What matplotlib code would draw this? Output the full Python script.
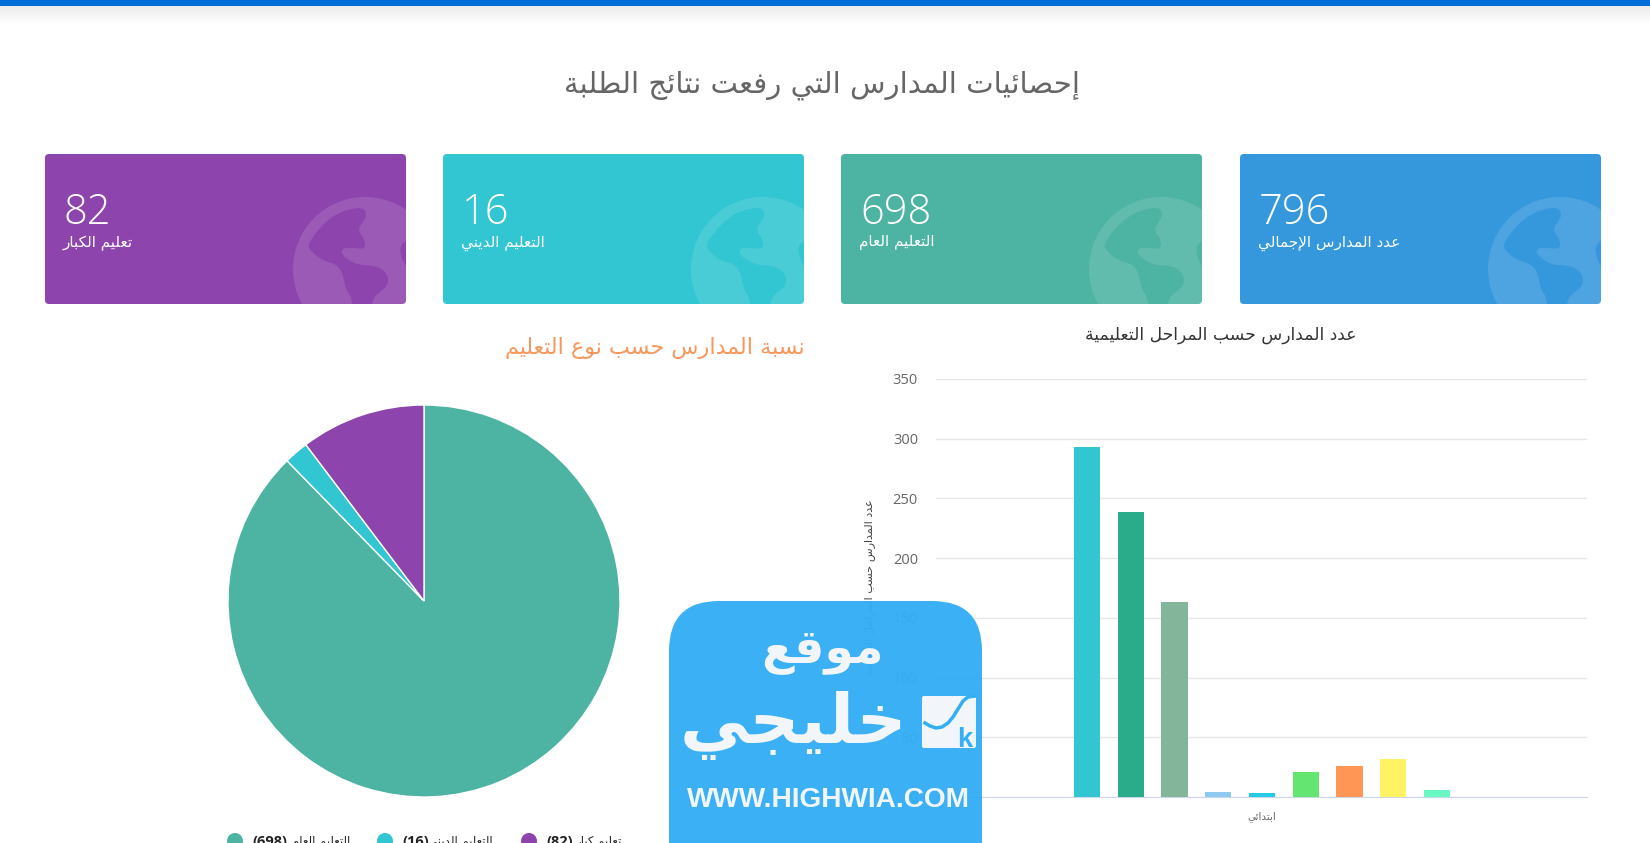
import numpy as np
import matplotlib
matplotlib.use("Agg")
import matplotlib.pyplot as plt
from matplotlib.patches import FancyBboxPatch, Circle, Polygon

W, H = 1650, 843

# Data
card_labels = ["تعليم الكبار", "التعليم الديني", "التعليم العام", "عدد المدارس الإجمالي"]
card_values = [82, 16, 698, 796]
card_colors = ["#8E44AD", "#32C5D2", "#4DB3A2", "#3598DC"]

pie_labels = ["التعليم العام", "التعليم الديني", "تعليم كبار"]
pie_values = [698, 16, 82]
pie_colors = ["#4DB3A2", "#32C5D2", "#8E44AD"]

bar_values = [293, 239, 163, 4, 3, 21, 26, 32, 6]
bar_colors = ["#32C5D2", "#2AAC8A", "#83B59B", "#90CAF0", "#24CBE5",
              "#64E572", "#FF9655", "#FFF263", "#6AF9C4"]
y_ticks = [0, 50, 100, 150, 200, 250, 300, 350]
x_label = "ابتدائي"

# Arabic shaping: matplotlib draws neither joined letters nor right to left
# (isolated, final, initial, medial), two-form letters do not join onward
FORMS = {}
start = 0xFE80
for ch, n in [("ء", 1), ("آ", 2), ("أ", 2), ("ؤ", 2), ("إ", 2), ("ئ", 4), ("ا", 2),
              ("ب", 4), ("ة", 2), ("ت", 4), ("ث", 4), ("ج", 4), ("ح", 4), ("خ", 4),
              ("د", 2), ("ذ", 2), ("ر", 2), ("ز", 2), ("س", 4), ("ش", 4), ("ص", 4),
              ("ض", 4), ("ط", 4), ("ظ", 4), ("ع", 4), ("غ", 4), ("ف", 4), ("ق", 4),
              ("ك", 4), ("ل", 4), ("م", 4), ("ن", 4), ("ه", 4), ("و", 2), ("ى", 2), ("ي", 4)]:
    FORMS[ch] = [chr(start + k) for k in range(n)]
    start += n
LAM_ALEF = {"آ": 0xFEF5, "أ": 0xFEF7, "إ": 0xFEF9, "ا": 0xFEFB}


def ar(text):
    """Arabic string to the joined, reversed form that matplotlib can draw."""
    out = []
    prev_joins = False
    i = 0
    while i < len(text):
        ch = text[i]
        if ch not in FORMS:
            out.append(ch)
            prev_joins = False
            i += 1
            continue
        nxt = text[i + 1] if i + 1 < len(text) else ""
        if ch == "ل" and nxt in LAM_ALEF:
            out.append(chr(LAM_ALEF[nxt] + (1 if prev_joins else 0)))
            prev_joins = False
            i += 2
            continue
        forms = FORMS[ch]
        joins_next = len(forms) == 4 and nxt in FORMS
        if len(forms) == 1:
            out.append(forms[0])
        elif prev_joins and joins_next:
            out.append(forms[3])
        elif prev_joins:
            out.append(forms[1])
        elif joins_next:
            out.append(forms[2])
        else:
            out.append(forms[0])
        prev_joins = joins_next
        i += 1
    return "".join(reversed(out))


def px_axes(x0, y0, x1, y1, **kw):
    # axes from page pixels, y going down
    return fig.add_axes([x0 / W, 1 - y1 / H, (x1 - x0) / W, (y1 - y0) / H], **kw)


def rounded(ax, x, y, w, h, r, **kw):
    box = FancyBboxPatch((x, y), w, h, boxstyle=f"round,pad=0,rounding_size={r}", **kw)
    ax.add_patch(box)
    return box


def soften(pts, rounds=2):
    # corner cutting, the icon outlines are round in the reference
    pts = np.array(pts, dtype=float)
    for _ in range(rounds):
        nxt = np.roll(pts, -1, axis=0)
        pts = np.column_stack([0.75 * pts + 0.25 * nxt, 0.25 * pts + 0.75 * nxt]).reshape(-1, 2)
    return pts


# continents of the globe icon, pixels from the card corner
land_a = [(318, 53), (322, 61), (317, 69), (313, 76), (320, 86), (320, 95), (308, 94),
          (298, 94), (296, 99), (302, 105), (313, 111), (333, 112), (343, 121), (343, 131),
          (335, 138), (328, 144), (326, 158), (307, 158), (307, 144), (301, 136), (298, 121),
          (293, 111), (277, 106), (268, 99), (262, 92), (272, 77), (285, 64), (300, 56)]
land_b = [(364, 84), (354, 93), (358, 108), (364, 116)]


def draw_card(ax, x0, label, value, color):
    y0, w, h = 154, 361, 150
    card = rounded(ax, x0, y0, w, h, 4, facecolor=color, edgecolor="none")
    globe = Circle((x0 + 320, y0 + 115), 72, facecolor="white", alpha=0.12, edgecolor="none")
    ax.add_patch(globe)
    globe.set_clip_path(card)
    for land in (land_a, land_b):
        pts = soften(land) + [x0, y0]
        shape = Polygon(pts, closed=True, facecolor=color, edgecolor="none")
        ax.add_patch(shape)
        shape.set_clip_path(card)
    ax.text(x0 + 19, y0 + 70, str(value), color="white", fontsize=30, family="Open Sans",
            fontweight="light", va="baseline", ha="left")
    ax.text(x0 + 18, y0 + 89, ar(label), color="white", fontsize=11, va="center", ha="left")


fig = plt.figure(figsize=(W / 100, H / 100), dpi=100, facecolor="white")

# page: top bar, cards, titles, legend
page = px_axes(0, 0, W, H, zorder=0)
page.axis("off")
page.imshow(np.linspace(0.92, 1, 20).reshape(-1, 1), cmap="gray", vmin=0, vmax=1,
            extent=(0, W, 26, 6), aspect="auto")
page.set_xlim(0, W)
page.set_ylim(H, 0)
page.add_patch(plt.Rectangle((0, 0), W, 6, facecolor="#006DD9", edgecolor="none"))

for x0, label, value, color in zip([45, 443, 841, 1240], card_labels, card_values, card_colors):
    draw_card(page, x0, label, value, color)

page.text(822, 85, ar("إحصائيات المدارس التي رفعت نتائج الطلبة"), color="#666666",
          fontsize=21, ha="center", va="center")
page.text(805, 348, ar("نسبة المدارس حسب نوع التعليم"), color="#F7975B",
          fontsize=16, ha="right", va="center")
page.text(1221, 335, ar("عدد المدارس حسب المراحل التعليمية"), color="#333333",
          fontsize=12.3, ha="center", va="center")

for mx, tx, te, label, value, color in zip([235, 385, 529], [252, 402, 546], [350, 493, 622],
                                           pie_labels, pie_values, pie_colors):
    page.add_patch(Circle((mx, 841), 8, facecolor=color, edgecolor="none"))
    page.text(tx, 846, f"({value})", color="#222222", fontsize=10.5, fontweight="bold",
              family="Open Sans", ha="left", va="baseline")
    page.text(te, 845, ar(label), color="#222222", fontsize=8.5, ha="right", va="baseline")

# pie
ax_pie = px_axes(228, 405, 620, 797, zorder=1)
ax_pie.pie(pie_values, colors=pie_colors, startangle=90, counterclock=False, radius=1,
           wedgeprops={"edgecolor": "white", "linewidth": 1})
ax_pie.set_xlim(-1, 1)
ax_pie.set_ylim(-1, 1)

# bars
ax_bar = px_axes(936, 379, 1587, 797, zorder=1)
ax_bar.patch.set_alpha(0)
xs = np.arange(len(bar_values))
ax_bar.bar(xs, bar_values, width=0.6, color=bar_colors, zorder=3)
ax_bar.set_xlim(-3.45, 11.43)
ax_bar.set_ylim(0, 350)
ax_bar.set_yticks(y_ticks)
ax_bar.set_xticks([xs[4]])
ax_bar.set_xticklabels([ar(x_label)], fontsize=7.5, color="#666666")
ax_bar.tick_params(axis="both", length=0)
ax_bar.tick_params(axis="x", pad=10)
ax_bar.tick_params(axis="y", pad=13)
for t in ax_bar.get_yticklabels():
    t.set_family("Open Sans")
    t.set_fontsize(10.5)
    t.set_color("#666666")
ax_bar.grid(axis="y", color="#E6E6E6", linewidth=1, zorder=0)
for side in ["top", "left", "right"]:
    ax_bar.spines[side].set_visible(False)
ax_bar.spines["bottom"].set_color("#CCD6EB")
ax_bar.set_ylabel(ar("عدد المدارس حسب المراحل التعليمية"), fontsize=8.1, color="#444444")
ax_bar.yaxis.set_label_coords((875 - 936) / 651, (797 - 588) / 418)

# watermark on top of everything, slightly see-through
mark = px_axes(0, 0, W, H, zorder=5)
mark.set_xlim(0, W)
mark.set_ylim(H, 0)
mark.axis("off")
rounded(mark, 669, 601, 313, 300, 50, facecolor="#34AEF4", edgecolor="none", alpha=0.97)
mark.text(823, 651, ar("موقع"), color="#F2F6FA", fontsize=34, fontweight="bold", ha="center", va="center")
mark.text(793, 726, ar("خليجي"), color="#F2F6FA", fontsize=50, fontweight="bold", ha="center", va="center")
rounded(mark, 922, 696, 54, 52, 2, facecolor="#F2F6FA", edgecolor="none")
mark.plot([925, 930, 936, 942, 948, 953, 958, 963, 968, 975],
          [723, 726, 728, 727, 723, 717, 709, 701, 697, 696], color="#34AEF4", lw=2.5)
mark.text(965, 747, "k", color="#34AEF4", fontsize=20, fontweight="bold", family="Liberation Sans",
          ha="center", va="baseline")
mark.text(828, 800, "WWW.HIGHWIA.COM", color="#F2F6FA", fontsize=20.2, fontweight="bold",
          family="Liberation Sans", ha="center", va="center")

fig.savefig("out.png", dpi=100)
